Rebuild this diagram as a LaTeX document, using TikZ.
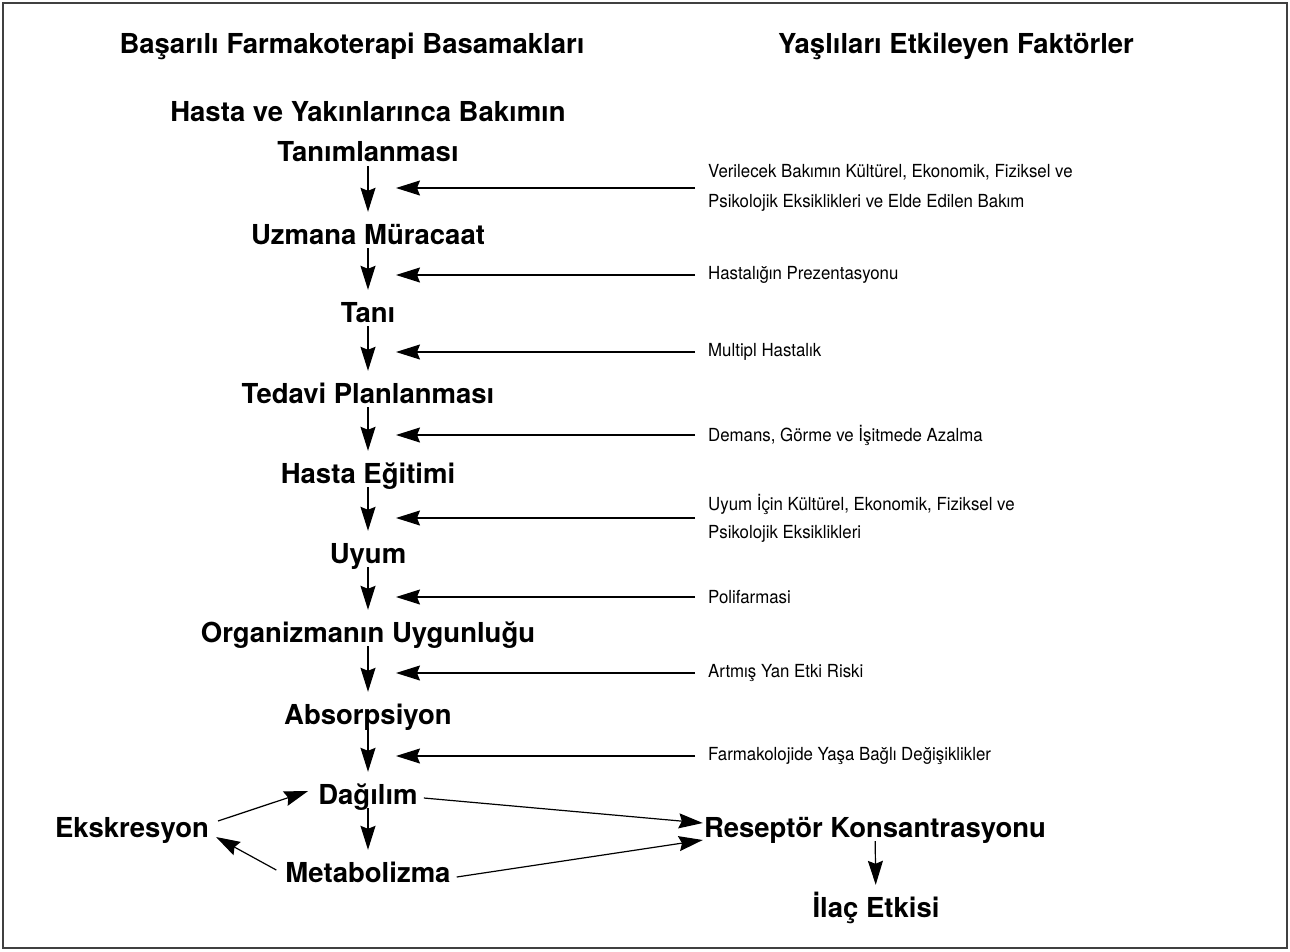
\documentclass[tikz,border=0pt]{standalone}
\usepackage{fontspec}
\setmainfont{TeX Gyre Heros}
\newfontfamily\factorfont{TeX Gyre Heros}[FakeStretch=0.935]
\usetikzlibrary{arrows.meta}

\begin{document}
\begin{tikzpicture}[x=1pt, y=-1pt,
    stage/.style={font=\fontsize{27.5}{40}\selectfont\bfseries, inner xsep=3pt, inner ysep=4pt},
    box/.style={stage, text height=20pt, text depth=0pt},
    factor/.style={anchor=west, align=left, font=\factorfont\fontsize{18}{30}\selectfont, inner xsep=13pt, inner ysep=0pt},
    flow/.style={-{Stealth[length=24pt,width=15pt,inset=3pt]}, line width=1.2pt}]
  \useasboundingbox (0,0) rectangle (1290,951);
  \draw[line width=1.5pt, black!75] (3,3) rectangle (1287,948);

  % headings
  \node[stage] (head1) at (352,46) {Başarılı Farmakoterapi Basamakları};
  \node[stage] (head2) at (956,46) {Yaşlıları Etkileyen Faktörler};

  % steps of therapy
  \node[stage, align=center, text depth=0pt, anchor=south] (tanim) at (368,166) {Hasta ve Yakınlarınca Bakımın\\Tanımlanması};
  \node[box] (uzm) at (368,234) {Uzmana Müracaat};
  \node[box] (tani) at (368,312) {Tanı};
  \node[box] (tedavi) at (368,393) {Tedavi Planlanması};
  \node[box] (egitim) at (368,473) {Hasta Eğitimi};
  \node[box] (uyum) at (368,553) {Uyum};
  \node[box] (organ) at (368,632) {Organizmanın Uygunluğu};
  \node[box] (absorp) at (368,714) {Absorpsiyon};
  \node[box] (dagilim) at (368,794) {Dağılım};
  \node[box] (metab) at (368,872) {Metabolizma};
  \node[box] (eksk) at (132,827) {Ekskresyon};
  \node[box] (resep) at (875,827) {Reseptör Konsantrasyonu};
  \node[box] (ilac) at (876,907) {İlaç Etkisi};

  % factors
  \node[factor] (f1) at (695,188) {Verilecek Bakımın Kültürel, Ekonomik, Fiziksel ve\\Psikolojik Eksiklikleri ve Elde Edilen Bakım};
  \node[factor] (f2) at (695,275) {Hastalığın Prezentasyonu};
  \node[factor] (f3) at (695,352) {Multipl Hastalık};
  \node[factor] (f4) at (695,435) {Demans, Görme ve İşitmede Azalma};
  \node[factor, font=\factorfont\fontsize{18}{28}\selectfont] (f5) at (695,518) {Uyum İçin Kültürel, Ekonomik, Fiziksel ve\\Psikolojik Eksiklikleri};
  \node[factor] (f6) at (695,597) {Polifarmasi};
  \node[factor] (f7) at (695,673) {Artmış Yan Etki Riski};
  \node[factor] (f8) at (695,756) {Farmakolojide Yaşa Bağlı Değişiklikler};
  \coordinate (axis) at (396,0);

  % connectors
  \foreach \a/\b in {tanim/uzm, uzm/tani, tani/tedavi, tedavi/egitim, egitim/uyum,
      uyum/organ, organ/absorp, absorp/dagilim, dagilim/metab, resep/ilac}
    \draw[flow, shorten >=8pt] (\a) -- (\b);
  \foreach \f in {f1,f2,f3,f4,f5,f6,f7,f8}
    \draw[flow] (\f.west) -- (\f.west -| axis);
  \draw[flow] ([shift={(6,-6)}]eksk.east) -- ([shift={(-7,-3)}]dagilim.west);
  \draw[flow] ([shift={(-6,-2)}]metab.west) -- ([shift={(4,10)}]eksk.east);
  \draw[flow] ([shift={(3,4)}]dagilim.east) -- ([shift={(2,-4)}]resep.west);
  \draw[flow] ([shift={(3,5)}]metab.east) -- ([shift={(2,13)}]resep.west);
\end{tikzpicture}
\end{document}
